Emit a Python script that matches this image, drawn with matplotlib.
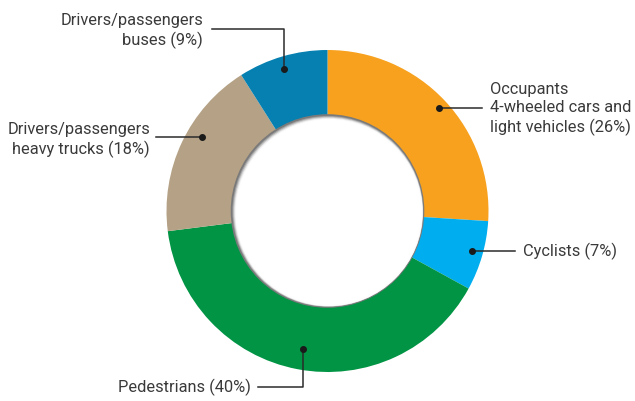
import matplotlib.pyplot as plt
from matplotlib.patches import Circle

labels = ["Occupants\n4-wheeled cars and\nlight vehicles (26%)", "Cyclists (7%)",
          "Pedestrians (40%)", "Drivers/passengers\nheavy trucks (18%)",
          "Drivers/passengers\nbuses (9%)"]
shares = [26, 7, 40, 18, 9]
colors = ["#F7A11F", "#00AEEF", "#009444", "#B5A286", "#0580B0"]

H = 401
cx, cy, r_out, r_in = 327.5, H - 211, 161, 96

fig = plt.figure(figsize=(6.35, 4.01), dpi=100)
ax = fig.add_axes([0, 0, 1, 1])

ax.pie(shares, colors=colors, startangle=90, counterclock=False,
       center=(cx, cy), radius=r_out, frame=True,
       wedgeprops=dict(linewidth=0))
ax.set_xlim(0, 635)
ax.set_ylim(0, H)
ax.set_aspect("equal")
ax.axis("off")

# hole with soft inner shadow
ax.add_patch(Circle((cx, cy), r_in + 0.8, color="#7a7a7a", zorder=3, lw=0))
for i, a in enumerate([0.3, 0.45, 0.65, 0.9]):
    ax.add_patch(Circle((cx + 0.35 * (i + 1), cy - 0.35 * (i + 1)), r_in - 0.6 * (i + 1),
                        color="white", alpha=a, zorder=4 + i, lw=0))
ax.add_patch(Circle((cx + 1.2, cy - 1.2), r_in - 3.5, color="white", zorder=10, lw=0))

fnt = dict(family=["Roboto", "DejaVu Sans"], size=11.8, color="#3a3a3a",
           linespacing=1.3)
lc = "#2b2b2b"

def leader(xs, ys):
    ax.plot(xs, [H - y for y in ys], color=lc, lw=1.1, zorder=20)
    ax.plot(xs[0], H - ys[0], "o", color="#1a1a1a", ms=4, zorder=21)

# Occupants
leader([439, 482], [108, 108])
ax.text(490, H - 109, labels[0], ha="left", va="center", **fnt)
# Cyclists
leader([472, 515], [251, 251])
ax.text(523, H - 251, labels[1], ha="left", va="center", **fnt)
# Pedestrians
leader([303, 303, 258], [349, 387, 387])
ax.text(251, H - 387, labels[2], ha="right", va="center", **fnt)
# heavy trucks
leader([202, 156], [137, 137])
ax.text(150, H - 140, labels[3], ha="right", va="center", **fnt)
# buses
leader([284, 284, 212], [69, 29, 29])
ax.text(203, H - 31, labels[4], ha="right", va="center", **fnt)

fig.savefig("out.png", dpi=100)
